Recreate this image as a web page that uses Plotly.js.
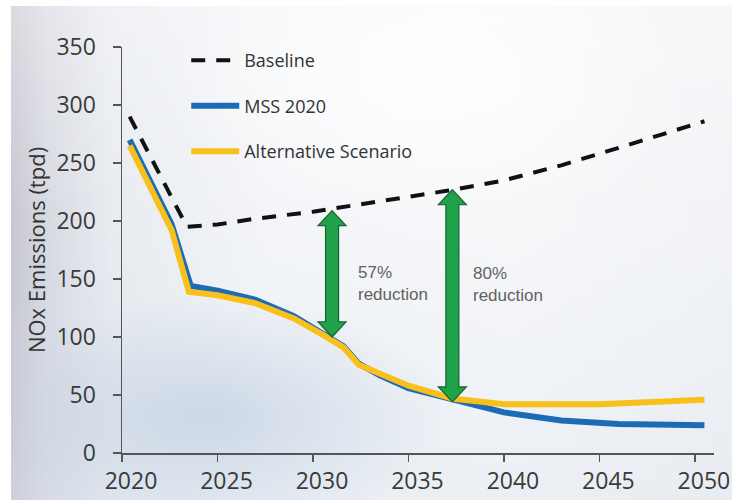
<!DOCTYPE html>
<html>
<head>
<meta charset="utf-8">
<script src="https://cdn.plot.ly/plotly-3.0.1.min.js"></script>
<style>
  html, body { margin: 0; padding: 0; background: #ffffff; }
  #bg {
    position: absolute; left: 11px; top: 6px; width: 721px; height: 494px;
    background:
      radial-gradient(ellipse 240px 120px at 200px 410px, rgba(185,202,222,0.6), rgba(185,202,222,0) 100%),
      radial-gradient(ellipse 260px 160px at 420px 70px, rgba(255,255,255,0.9), rgba(255,255,255,0) 100%),
      linear-gradient(to bottom, rgba(255,255,255,0.35) 0%, rgba(255,255,255,0) 45%, rgba(215,225,236,0.35) 100%),
      linear-gradient(to right, #c6c6d0 0px, #d7d9e1 35px, #e8ebf0 100px, #f3f5f8 260px, #f6f7f9 500px, #f1f3f6 100%);
  }
  #chart { position: absolute; left: 0; top: 0; width: 732px; height: 500px; }
</style>
</head>
<body>
<div id="bg"></div>
<div id="chart"></div>
<script>
// ---- Data ----
const baselineYears = [2020.4, 2023.4, 2025, 2027, 2030, 2033, 2035, 2037, 2040, 2043, 2046, 2048, 2050.5];
const baselineValues = [290, 195, 197, 202, 208, 216, 221, 226, 235, 248, 263, 273, 286];

const mssYears = [2020.4, 2022.6, 2023.6, 2025, 2027, 2029, 2030.5, 2031.6, 2032.4, 2033.5, 2035, 2037.3, 2040, 2043, 2046, 2050.5];
const mssValues = [270, 197, 144, 140, 132, 118, 103, 92, 77, 67, 56, 46, 35, 28, 25, 24];

const altYears = [2020.4, 2022.6, 2023.5, 2025, 2027, 2029, 2030.5, 2031.6, 2032.4, 2033.5, 2035, 2037.3, 2040, 2045, 2050.5];
const altValues = [265, 192, 139, 136, 129, 116, 102, 91, 76, 68, 58, 47, 42, 42, 46];

const arrowYears = [2031.0, 2037.3];
const arrowTop = [209, 227];
const arrowBottom = [100, 44];
const arrowLabels = ['57%<br>reduction', '80%<br>reduction'];
const labelYears = [2032.25, 2038.27];
const labelValues = [146, 145];

const xTicks = [2020, 2025, 2030, 2035, 2040, 2045, 2050];

// ---- Traces ----
const traces = [
  { x: baselineYears, y: baselineValues, name: 'Baseline', type: 'scatter', mode: 'lines',
    legendgroup: 'a', line: { color: '#111111', width: 4, dash: '14px,11px' } },
  { x: mssYears, y: mssValues, name: 'MSS 2020', type: 'scatter', mode: 'lines',
    legendgroup: 'b', line: { color: '#1b6cb5', width: 6 } },
  { x: altYears, y: altValues, name: 'Alternative Scenario', type: 'scatter', mode: 'lines',
    legendgroup: 'c', line: { color: '#f9c01b', width: 6 } }
];

// ---- Arrow shapes (x offsets in pixels around the data year, y in data units) ----
const headH = 13, shaftW = 6.5, headW = 14;
const shapes = arrowYears.map((yr, i) => {
  const T = arrowTop[i], B = arrowBottom[i];
  const p = `M 0,${T} L ${headW},${T - headH} L ${shaftW},${T - headH} L ${shaftW},${B + headH} L ${headW},${B + headH} L 0,${B} L ${-headW},${B + headH} L ${-shaftW},${B + headH} L ${-shaftW},${T - headH} L ${-headW},${T - headH} Z`;
  return { type: 'path', xref: 'x', yref: 'y', xsizemode: 'pixel', xanchor: yr, path: p,
           fillcolor: '#20a24b', line: { color: '#17622f', width: 1.2 }, layer: 'above' };
});

const annotations = arrowLabels.map((t, i) => ({
  x: labelYears[i], y: labelValues[i], xref: 'x', yref: 'y', text: t, showarrow: false,
  xanchor: 'left', yanchor: 'middle', align: 'left',
  font: { family: 'Liberation Sans, Arial, sans-serif', size: 17, color: '#626262' }
}));

const axisFont = { family: 'Open Sans, Noto Sans, sans-serif', size: 23, color: '#3a3a3a' };

const layout = {
  width: 732, height: 500,
  margin: { l: 122, r: 18, t: 47, b: 47, pad: 0 },
  paper_bgcolor: 'rgba(0,0,0,0)',
  plot_bgcolor: 'rgba(0,0,0,0)',
  showlegend: true,
  legend: {
    x: 0.1085, y: 1.012, xanchor: 'left', yanchor: 'top',
    bgcolor: 'rgba(0,0,0,0)', borderwidth: 0,
    font: { family: 'Open Sans, Noto Sans, sans-serif', size: 18, color: '#333333' },
    tracegroupgap: 19, itemwidth: 48
  },
  xaxis: {
    range: [2020, 2051], tickvals: xTicks, ticktext: xTicks.map(String),
    showgrid: false, zeroline: false, showline: true, linecolor: '#555555', linewidth: 1.5,
    ticks: 'outside', ticklen: 7, tickwidth: 1.5, tickcolor: '#555555',
    tickfont: axisFont, ticklabelshift: 9, ticklabelstandoff: 0, fixedrange: true
  },
  yaxis: {
    range: [0, 350], dtick: 50, tick0: 0,
    showgrid: false, zeroline: false, showline: true, linecolor: '#555555', linewidth: 1.5,
    ticks: 'outside', ticklen: 8, tickwidth: 1.5, tickcolor: '#555555',
    tickfont: axisFont, ticklabelstandoff: 12,
    title: { text: 'NOx Emissions (tpd)', font: { family: 'Open Sans, Noto Sans, sans-serif', size: 22, color: '#333333' }, standoff: 4 },
    fixedrange: true
  },
  shapes: shapes,
  annotations: annotations
};

Plotly.newPlot('chart', traces, layout, { staticPlot: true, displayModeBar: false });
</script>
</body>
</html>
